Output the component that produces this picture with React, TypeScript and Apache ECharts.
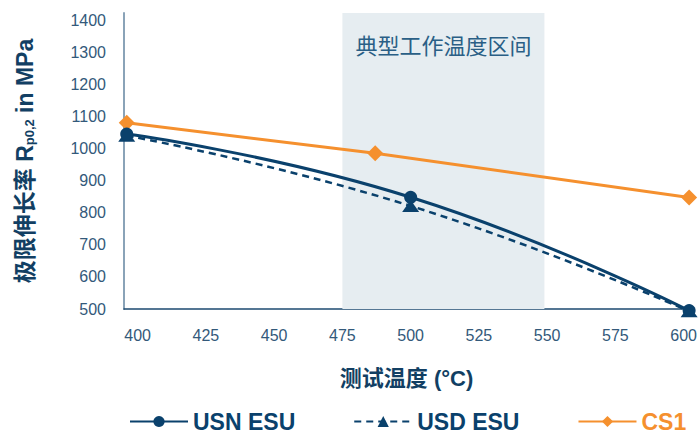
import React, { useEffect, useRef } from 'react';
import * as echarts from 'echarts';

const seriesNames = ['USN ESU', 'USD ESU', 'CS1'];
const usnTemps = [396, 500, 602];
const usnValues = [1045, 848, 495];
const usdTemps = [396, 500, 602];
const usdValues = [1040, 821, 493];
const cs1Temps = [396, 487, 602];
const cs1Values = [1080, 985, 847];
const xTickLabels = [400, 425, 450, 475, 500, 525, 550, 575, 600];
const yTickLabels = [500, 600, 700, 800, 900, 1000, 1100, 1200, 1300, 1400];
const bandRange = [475, 549];
const bandLabel = '典型工作温度区间';
const xAxisName = '测试温度 (°C)';

const NAVY = '#0a416c';
const ORANGE = '#f5902e';
const LABEL = '#33597a';
const FONT = "'Liberation Sans', Arial, 'Noto Sans CJK SC', sans-serif";

const zip = (xs: number[], ys: number[]) => xs.map((x, i) => [x, ys[i]]);

export default function App() {
  const ref = useRef<HTMLDivElement>(null);
  useEffect(() => {
    document.body.style.margin = '0';
    const chart = echarts.init(ref.current!, undefined, { renderer: 'svg' });
    chart.setOption({
      animation: false,
      textStyle: { fontFamily: FONT },
      grid: { left: 124, right: 10, top: 13, bottom: 128, containLabel: false },
      legend: {
        left: 124,
        top: 405,
        itemWidth: 58,
        itemHeight: 14,
        itemGap: 58,
        textStyle: { fontSize: 23, lineHeight: 22, fontWeight: 'bold', fontFamily: FONT },
        data: [
          { name: seriesNames[0], textStyle: { color: NAVY } },
          { name: seriesNames[1], textStyle: { color: NAVY } },
          { name: seriesNames[2], textStyle: { color: ORANGE } },
        ],
      },
      xAxis: {
        type: 'value',
        min: 395,
        max: 602,
        name: xAxisName,
        nameLocation: 'middle',
        nameGap: 58,
        nameTextStyle: { fontSize: 22, fontWeight: 'bold', color: '#123f63', fontFamily: FONT },
        axisLine: { show: true, lineStyle: { color: '#1d4a70', width: 1.5 } },
        axisTick: { show: false },
        splitLine: { show: false },
        axisLabel: {
          customValues: xTickLabels,
          formatter: (v: number) => String(v),
          fontSize: 16,
          color: LABEL,
          margin: 18,
          fontFamily: FONT,
        },
      },
      yAxis: {
        type: 'value',
        min: 500,
        max: 1422,
        name: '{a|极限伸长率 R}{sub|p0,2}{a| in MPa}',
        nameLocation: 'middle',
        nameGap: 88,
        nameRotate: 90,
        nameTextStyle: {
          color: '#123f63',
          rich: {
            a: { fontSize: 23, fontWeight: 'bold', color: '#123f63', fontFamily: FONT },
            sub: { fontSize: 13, fontWeight: 'bold', color: '#123f63', fontFamily: FONT, verticalAlign: 'bottom', padding: [10, 0, 0, 0] },
          },
        },
        axisLine: { show: true, lineStyle: { color: '#8aa3b8', width: 2 } },
        axisTick: { show: false },
        splitLine: { show: false },
        axisLabel: {
          customValues: yTickLabels,
          formatter: (v: number) => String(v),
          fontSize: 16,
          color: LABEL,
          margin: 18,
          fontFamily: FONT,
        },
      },
      series: [
        {
          name: seriesNames[0],
          type: 'line',
          data: zip(usnTemps, usnValues),
          smooth: 0.5,
          clip: false,
          z: 4,
          symbol: 'circle',
          symbolSize: 13,
          itemStyle: { color: NAVY },
          lineStyle: { color: NAVY, width: 3 },
          markArea: {
            silent: true,
            itemStyle: { color: '#e6edf1' },
            label: {
              show: true,
              position: 'insideTop',
              distance: 22,
              fontSize: 22,
              color: '#2a5f86',
              fontFamily: FONT,
            },
            data: [[{ name: bandLabel, xAxis: bandRange[0] }, { xAxis: bandRange[1] }]],
          },
        },
        {
          name: seriesNames[1],
          type: 'line',
          data: zip(usdTemps, usdValues),
          smooth: 0.5,
          clip: false,
          z: 3,
          symbol: 'triangle',
          symbolSize: [17, 12],
          itemStyle: { color: NAVY },
          lineStyle: { color: NAVY, width: 2.5, type: [7, 5] },
        },
        {
          name: seriesNames[2],
          type: 'line',
          data: zip(cs1Temps, cs1Values),
          clip: false,
          z: 2,
          symbol: 'diamond',
          symbolSize: 16,
          itemStyle: { color: ORANGE },
          lineStyle: { color: ORANGE, width: 3 },
        },
      ],
    });
    return () => chart.dispose();
  }, []);
  return <div ref={ref} style={{ width: 700, height: 437 }} />;
}
